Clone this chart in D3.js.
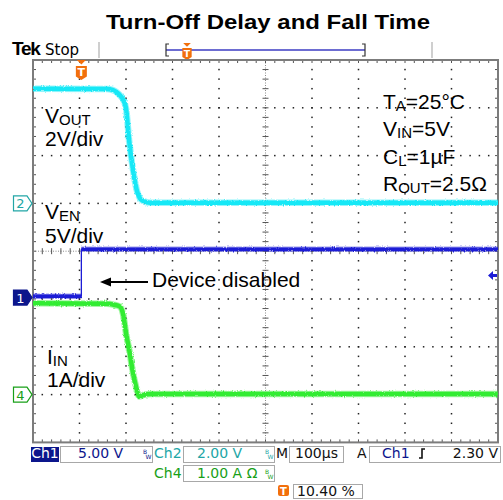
<!DOCTYPE html>
<html>
<head>
<meta charset="utf-8">
<script src="https://cdn.jsdelivr.net/npm/d3@7"></script>
<style>
  body { margin: 0; background: #fff; }
  svg { display: block; }
</style>
</head>
<body>
<div id="chart"></div>
<script>
//---------------------------------//
// Scope capture data              //
//---------------------------------//

var timeDomainUs = [-104, 896];          // 100us/div, 10 div, trigger at 10.40 %

// Ch2 - VOUT (V), 2V/div
var voutTimeUs = [-104, 55, 68, 78, 84, 90, 96, 103, 111.6, 120, 126, 133, 147.5, 896];
var voutVolts  = [4.80, 4.79, 4.74, 4.62, 4.50, 4.33, 3.98, 2.58, 1.33, 0.49, 0.21, 0.10, 0.03, 0.03];

// Ch1 - VEN (V), 5V/div
var venTimeUs = [-104, 0, 0, 896];
var venVolts  = [0.15, 0.15, 5.05, 5.05];

// Ch4 - IIN (A), 1A/div
var iinTimeUs = [-104, 55, 70, 83, 90, 96, 103, 110, 117.5, 124.5, 133, 150, 896];
var iinAmps   = [1.91, 1.90, 1.88, 1.84, 1.67, 1.29, 0.93, 0.51, 0.17, -0.04, -0.01, 0.01, 0.01];

// channel settings
var voltsPerDiv = { ch1: 5, ch2: 2, ch4: 1 };
var groundDiv   = { ch1: 4.97, ch2: 3, ch4: 7 };   // divisions from top of screen
var triggerLevel = 2.30;                          // V on Ch1

var conditionLines = [
    ['T', 'A', '=25°C'],
    ['V', 'IN', '=5V'],
    ['C', 'L', '=1µF'],
    ['R', 'OUT', '=2.5Ω']
];

window.Scope = window.Scope || {};

Scope.init = function() {
    Scope.setup.initConsts();
    Scope.setup.initSvg();
    Scope.setup.initScales();

    Scope.draw.header();
    Scope.draw.graticule();
    Scope.draw.traces();
    Scope.draw.markers();
    Scope.draw.labels();
    Scope.draw.statusBar();
};

Scope.setup = {
    initConsts: function() {
        Scope.W = 503;
        Scope.H = 500;

        Scope.left = 33;            //Screen (graticule) edges
        Scope.right = 498;
        Scope.top = 60;
        Scope.divY = 47.8;
        Scope.bottom = Scope.top + 8 * Scope.divY;
        Scope.divX = (Scope.right - Scope.left) / 10;

        Scope.cyan = '#16e8f6';
        Scope.blue = '#1c1cd6';
        Scope.green = '#30ec30';
        Scope.navy = '#0c168c';
        Scope.teal = '#22a6a6';
        Scope.dkgreen = '#18a018';
        Scope.orange = '#f26f0c';

        Scope.labelFont = '"Liberation Sans", Arial, sans-serif';
        Scope.uiFont = '"DejaVu Sans", Verdana, sans-serif';
    },

    initSvg: function() {
        Scope.svg = d3.select('#chart').append('svg')
            .attr('width', Scope.W)
            .attr('height', Scope.H);

        // slight ragged edge on traces (rendering only)
        var defs = Scope.svg.append('defs');
        var f = defs.append('filter').attr('id', 'fuzz')
            .attr('filterUnits', 'userSpaceOnUse')
            .attr('x', 0).attr('y', 0).attr('width', Scope.W).attr('height', Scope.H);
        f.append('feTurbulence').attr('type', 'fractalNoise')
            .attr('baseFrequency', '0.9 0.6').attr('numOctaves', 1).attr('seed', 3).attr('result', 'n');
        f.append('feDisplacementMap').attr('in', 'SourceGraphic').attr('in2', 'n')
            .attr('scale', 3).attr('xChannelSelector', 'R').attr('yChannelSelector', 'G');
    },

    initScales: function() {
        Scope.x = d3.scaleLinear().domain(timeDomainUs).range([Scope.left, Scope.right]);

        Scope.y = {};
        ['ch1', 'ch2', 'ch4'].forEach(function(ch) {
            var vd = voltsPerDiv[ch], g = groundDiv[ch];
            Scope.y[ch] = d3.scaleLinear()
                .domain([-(8 - g) * vd, g * vd])
                .range([Scope.bottom, Scope.top]);
        });
    }
};

Scope.draw = {
    header: function() {
        var svg = Scope.svg;

        svg.append('text')
            .attr('x', 106).attr('y', 29)
            .attr('textLength', 324).attr('lengthAdjust', 'spacingAndGlyphs')
            .style('font', 'bold 21px ' + Scope.labelFont)
            .text('Turn-Off Delay and Fall Time');

        svg.append('text').attr('x', 12).attr('y', 55)
            .style('font', 'bold 19px ' + Scope.labelFont)
            .attr('letter-spacing', -1.2)
            .text('Tek');
        svg.append('text').attr('x', 45).attr('y', 55)
            .style('font', '15px ' + Scope.uiFont)
            .text('Stop');

        [99, 432].forEach(function(sx) {        //grey separators
            svg.append('line').attr('x1', sx).attr('x2', sx).attr('y1', 42).attr('y2', 58)
                .attr('stroke', '#cfcfcf').attr('stroke-width', 2);
        });

        // record length bar
        svg.append('line').attr('x1', 166).attr('x2', 365).attr('y1', 50).attr('y2', 50)
            .attr('stroke', '#6d6dd2').attr('stroke-width', 2);
        svg.append('path').attr('d', 'M169,44 H166 V56 H169').attr('fill', 'none').attr('stroke', '#333').attr('stroke-width', 1.2);
        svg.append('path').attr('d', 'M362,44 H365 V56 H362').attr('fill', 'none').attr('stroke', '#333').attr('stroke-width', 1.2);
        Scope.draw.trigFlag(187, 43, 0.85);
    },

    trigFlag: function(cx, y0, k) {              //Orange "T" flag (trigger position)
        var g = Scope.svg.append('g').attr('transform', 'translate(' + cx + ',' + y0 + ') scale(' + k + ')');
        g.append('path').attr('d', 'M-4.5,0 H4.5 L0,4.5 Z').attr('fill', Scope.orange);
        g.append('path').attr('d', 'M-5.5,6 H5.5 V16.5 L0,20 L-5.5,16.5 Z').attr('fill', Scope.orange);
        g.append('text').attr('x', 0).attr('y', 16).attr('text-anchor', 'middle')
            .style('font', 'bold 11px ' + Scope.uiFont).attr('fill', '#fff').text('T');
    },

    graticule: function() {
        var svg = Scope.svg, g = svg.append('g');
        var L = Scope.left, R = Scope.right, T = Scope.top, B = Scope.bottom;
        var dx = Scope.divX, dy = Scope.divY;
        var cx = L + 5 * dx, cy = T + 4 * dy;
        var i, k;

        // dotted division lines
        for (i = 1; i < 10; i++) {
            if (i === 5) continue;
            for (k = 1; k < 40; k++) {
                g.append('rect').attr('x', L + i * dx - 0.75).attr('y', T + k * dy / 5 - 0.75)
                    .attr('width', 1.5).attr('height', 1.5).attr('fill', '#222');
            }
        }
        for (i = 1; i < 8; i++) {
            if (i === 4) continue;
            for (k = 1; k < 50; k++) {
                g.append('rect').attr('x', L + k * dx / 5 - 0.75).attr('y', T + i * dy - 0.75)
                    .attr('width', 1.5).attr('height', 1.5).attr('fill', '#222');
            }
        }

        // centre cross with minor ticks
        g.append('line').attr('x1', cx).attr('x2', cx).attr('y1', T).attr('y2', B)
            .attr('stroke', '#8a8a8a').attr('stroke-dasharray', '1,1.5');
        g.append('line').attr('x1', L).attr('x2', R).attr('y1', cy).attr('y2', cy)
            .attr('stroke', '#8a8a8a').attr('stroke-dasharray', '1,1.5');
        for (k = 1; k < 40; k++) {
            g.append('line').attr('x1', cx - 3).attr('x2', cx + 3)
                .attr('y1', T + k * dy / 5).attr('y2', T + k * dy / 5)
                .attr('stroke', '#555').attr('stroke-width', 1);
        }
        for (k = 1; k < 50; k++) {
            g.append('line').attr('y1', cy - 3).attr('y2', cy + 3)
                .attr('x1', L + k * dx / 5).attr('x2', L + k * dx / 5)
                .attr('stroke', '#555').attr('stroke-width', 1);
        }

        // border ticks
        for (k = 1; k < 50; k++) {
            var tx = L + k * dx / 5;
            g.append('line').attr('x1', tx).attr('x2', tx).attr('y1', T).attr('y2', T + 3).attr('stroke', '#555');
            g.append('line').attr('x1', tx).attr('x2', tx).attr('y1', B).attr('y2', B - 3).attr('stroke', '#555');
        }
        for (k = 1; k < 40; k++) {
            var ty = T + k * dy / 5;
            g.append('line').attr('y1', ty).attr('y2', ty).attr('x1', L).attr('x2', L + 3).attr('stroke', '#555');
            g.append('line').attr('y1', ty).attr('y2', ty).attr('x1', R).attr('x2', R - 3).attr('stroke', '#555');
        }

        g.append('rect').attr('x', L).attr('y', T).attr('width', R - L).attr('height', B - T)
            .attr('fill', 'none').attr('stroke', '#7c7c7c').attr('stroke-width', 2);
    },

    trace: function(times, vals, yScale, color, width, curve) {
        var pts = times.map(function(t, i) { return [t, vals[i]]; });
        var line = d3.line()
            .x(function(d) { return Scope.x(d[0]); })
            .y(function(d) { return yScale(d[1]); })
            .curve(curve || d3.curveMonotoneX);
        var g = Scope.svg.append('g').attr('filter', 'url(#fuzz)');
        g.append('path').datum(pts).attr('d', line)
            .attr('fill', 'none').attr('stroke', color).attr('stroke-width', width + 2)
            .attr('stroke-opacity', 0.45).attr('stroke-linejoin', 'round');
        g.append('path').datum(pts).attr('d', line)
            .attr('fill', 'none').attr('stroke', color).attr('stroke-width', width)
            .attr('stroke-linejoin', 'round');
    },

    traces: function() {
        Scope.draw.trace(iinTimeUs, iinAmps, Scope.y.ch4, Scope.green, 4.5);
        Scope.draw.trace(voutTimeUs, voutVolts, Scope.y.ch2, Scope.cyan, 4.5);

        // VEN is a step: thin vertical edge plus two noisy levels
        var pts = venTimeUs.map(function(t, i) { return [t, venVolts[i]]; });
        var line = d3.line()
            .x(function(d) { return Scope.x(d[0]); })
            .y(function(d) { return Scope.y.ch1(d[1]); });
        Scope.svg.append('path').datum(pts).attr('d', line)
            .attr('fill', 'none').attr('stroke', Scope.blue).attr('stroke-width', 1.3);
        Scope.draw.trace(venTimeUs.slice(0, 2), venVolts.slice(0, 2), Scope.y.ch1, Scope.blue, 3.5, d3.curveLinear);
        Scope.draw.trace(venTimeUs.slice(2), venVolts.slice(2), Scope.y.ch1, Scope.blue, 3.5, d3.curveLinear);
    },

    chanTag: function(y, label, fill, stroke, textColor) {
        var g = Scope.svg.append('g').attr('transform', 'translate(13,' + y + ')');
        g.append('path').attr('d', 'M0.5,-7.5 H14 L19,0 L14,7.5 H0.5 Z')
            .attr('fill', fill).attr('stroke', stroke).attr('stroke-width', 1.2);
        g.append('text').attr('x', 7.5).attr('y', 5).attr('text-anchor', 'middle')
            .style('font', '13px ' + Scope.uiFont).attr('fill', textColor).text(label);
    },

    markers: function() {
        Scope.draw.chanTag(Scope.y.ch2(0), '2', '#fff', Scope.teal, Scope.teal);
        Scope.draw.chanTag(Scope.y.ch1(0), '1', Scope.navy, Scope.navy, '#fff');
        Scope.draw.chanTag(Scope.y.ch4(0), '4', '#fff', Scope.dkgreen, Scope.dkgreen);

        Scope.draw.trigFlag(Scope.x(0), 60, 1);

        // trigger level arrow on right
        var ty = Scope.y.ch1(triggerLevel);
        Scope.svg.append('path')
            .attr('d', 'M' + (Scope.right - 10) + ',' + ty + ' l5,-4.5 v3 h4 v3 h-4 v3 Z')
            .attr('fill', Scope.blue);
    },

    subLabel: function(x, y, parts, size, subSize) {
        var t = Scope.svg.append('text').attr('x', x).attr('y', y)
            .style('font-family', Scope.labelFont).style('font-size', size + 'px');
        t.append('tspan').text(parts[0]);
        t.append('tspan').attr('dy', 2).style('font-size', subSize + 'px').text(parts[1]);
        if (parts[2]) t.append('tspan').attr('dy', -2).text(parts[2]);
        return t;
    },

    labels: function() {
        var f = Scope.labelFont, svg = Scope.svg;
        Scope.draw.subLabel(45, 123, ['V', 'OUT'], 21, 15);
        svg.append('text').attr('x', 45).attr('y', 146).style('font', '21px ' + f).text('2V/div');

        Scope.draw.subLabel(45, 219, ['V', 'EN'], 21, 15);
        svg.append('text').attr('x', 45).attr('y', 243).style('font', '21px ' + f).text('5V/div');

        Scope.draw.subLabel(47, 364, ['I', 'IN'], 21, 15);
        svg.append('text').attr('x', 47).attr('y', 387).style('font', '21px ' + f).text('1A/div');

        conditionLines.forEach(function(p, i) {
            Scope.draw.subLabel(383, 109 + i * 27.3, p, 21, 15);
        });

        // "Device disabled" annotation
        svg.append('line').attr('x1', 148).attr('x2', 106).attr('y1', 282).attr('y2', 282)
            .attr('stroke', '#000').attr('stroke-width', 2);
        svg.append('path').attr('d', 'M100,282 L111,277.5 L111,286.5 Z').attr('fill', '#000');
        svg.append('text').attr('x', 152).attr('y', 287).style('font', '21px ' + f).text('Device disabled');
    },

    box: function(x, y, w, h) {
        Scope.svg.append('rect').attr('x', x + 0.5).attr('y', y + 0.5).attr('width', w).attr('height', h)
            .attr('fill', '#fff').attr('stroke', '#a8a8a8').attr('stroke-width', 1);
    },

    uiText: function(x, y, s, color, anchor) {
        return Scope.svg.append('text').attr('x', x).attr('y', y)
            .attr('text-anchor', anchor || 'start')
            .style('font', '14px ' + Scope.uiFont).attr('fill', color).text(s);
    },

    bw: function(x, y, color) {                  //tiny stacked "BW" limit glyph
        var t = Scope.svg.append('text').attr('x', x).attr('y', y - 4)
            .style('font', '6px ' + Scope.uiFont).attr('fill', color);
        t.append('tspan').text('B');
        t.append('tspan').attr('dy', 5).attr('dx', -1.5).text('W');
    },

    statusBar: function() {
        var svg = Scope.svg, d = Scope.draw;
        var y1 = 458;

        svg.append('rect').attr('x', 31).attr('y', 447).attr('width', 28).attr('height', 15).attr('fill', Scope.navy);
        d.uiText(45, y1, 'Ch1', '#fff', 'middle');

        d.box(60, 446, 92, 16);
        d.uiText(78, y1, '5.00 V', Scope.navy);
        d.bw(143, y1, Scope.navy);

        d.uiText(154, y1, 'Ch2', Scope.teal);
        d.box(183, 446, 91, 16);
        d.uiText(197, y1, '2.00 V', Scope.teal);
        d.bw(265, y1, Scope.teal);

        d.uiText(276, y1, 'M', '#111');
        d.box(289, 446, 54, 16);
        d.uiText(295, y1, '100µs', '#111');

        d.uiText(357, y1, 'A', '#111');
        d.box(369, 446, 131, 16);
        d.uiText(382, y1, 'Ch1', Scope.navy);
        svg.append('path').attr('d', 'M419,458 h3 v-9 h3').attr('fill', 'none').attr('stroke', '#111').attr('stroke-width', 1.6);
        d.uiText(498, y1, '2.30 V', '#111', 'end');

        d.uiText(154, 478, 'Ch4', Scope.dkgreen);
        d.box(183, 465, 91, 16);
        d.uiText(197, 478, '1.00 A Ω', Scope.dkgreen);
        d.bw(265, 478, Scope.dkgreen);

        svg.append('rect').attr('x', 278).attr('y', 485).attr('width', 11).attr('height', 11).attr('rx', 2).attr('fill', Scope.orange);
        svg.append('text').attr('x', 283.5).attr('y', 494.5).attr('text-anchor', 'middle')
            .style('font', 'bold 10px ' + Scope.uiFont).attr('fill', '#fff').text('T');
        d.box(293, 484, 69, 14);
        d.uiText(297, 496, '10.40 %', '#111');
    }
};

document.addEventListener('DOMContentLoaded', Scope.init);
</script>
</body>
</html>
